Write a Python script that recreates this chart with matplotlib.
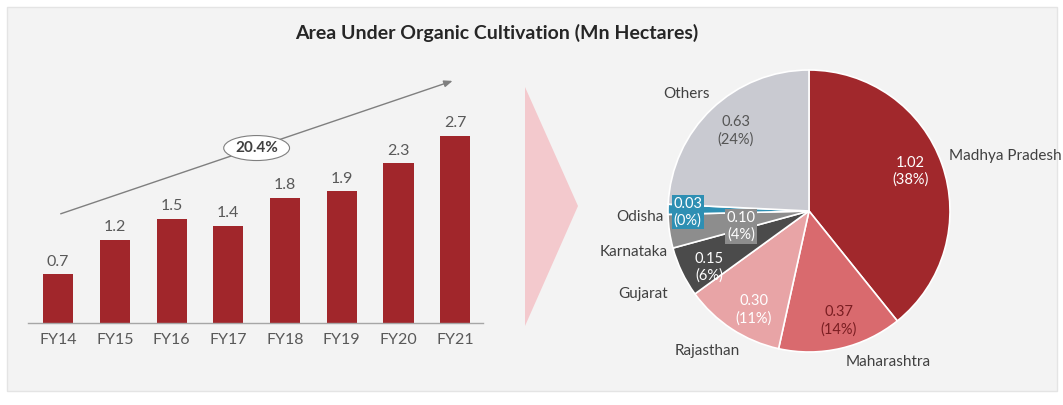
import matplotlib
matplotlib.use("Agg")
import matplotlib.pyplot as plt
from matplotlib.patches import Rectangle, Polygon
import numpy as np

plt.rcParams['font.family'] = ['Lato', 'DejaVu Sans']

# ---- data ----
years = ["FY14", "FY15", "FY16", "FY17", "FY18", "FY19", "FY20", "FY21"]
area = [0.7, 1.2, 1.5, 1.4, 1.8, 1.9, 2.3, 2.7]
cagr_label = "20.4%"

states = ["Madhya Pradesh", "Maharashtra", "Rajasthan", "Gujarat", "Karnataka", "Odisha", "Others"]
state_area = [1.02, 0.37, 0.30, 0.15, 0.10, 0.03, 0.63]
state_pct = ["38%", "14%", "11%", "6%", "4%", "0%", "24%"]

title = "Area Under Organic Cultivation (Mn Hectares)"

# ---- styles ----
W, H = 1063, 405
bar_color = "#a1262b"
pie_colors = ["#a1282c", "#d96a6e", "#e8a4a6", "#4b4b4b", "#8d8d8d", "#2e8fb3", "#c9cad1"]
inner_text_colors = ["white", "#7a1e22", "white", "white", "white", "white", "#555555"]
inner_box = [None, None, None, None, "#8d8d8d", "#2e8fb3", None]
inner_pos = [(0.72, 0.28), (0.21, -0.78), (-0.39, -0.70), (-0.71, -0.40),
             (-0.48, -0.11), (-0.86, -0.01), (-0.52, 0.57)]
outer_pos = [(0.99, 0.39, "left"), (0.56, -1.07, "center"), (-0.72, -0.99, "center"),
             (-1.0, -0.59, "right"), (-1.0, -0.29, "right"), (-1.03, -0.04, "right"),
             (-0.87, 0.83, "center")]

fig = plt.figure(figsize=(W / 100, H / 100), dpi=100)
fig.patch.set_facecolor("white")

def fx(px):
    return px / W

def fy(py):
    return 1 - py / H

# panel background
fig.patches.append(Rectangle((fx(7), fy(391)), fx(1057) - fx(7), fy(7) - fy(391),
                             transform=fig.transFigure, facecolor="#f3f3f3",
                             edgecolor="#e4e4e4", lw=1, zorder=-2))

# chevron
fig.patches.append(Polygon([(fx(525), fy(87)), (fx(578), fy(206)), (fx(525), fy(326))],
                           closed=True, transform=fig.transFigure,
                           facecolor="#f3c9cd", edgecolor="none", zorder=-1))

fig.text(fx(497), fy(33), title, ha="center", va="center", fontsize=14,
         fontweight="bold", color="#262626")

# ---- bar chart ----
ax = fig.add_axes([fx(28), fy(323), fx(483) - fx(28), fy(80) - fy(323)])
ax.set_facecolor("none")
x = np.arange(len(years))
bars = ax.bar(x, area, width=0.53, color=bar_color, zorder=2)
ax.set_xlim(-0.53, 7.49)
ax.set_ylim(0, 3.5)
for b, v in zip(bars, area):
    ax.text(b.get_x() + b.get_width() / 2, v + 0.08, f"{v}", ha="center", va="bottom",
            fontsize=11.5, color="#595959")
ax.set_xticks(x)
ax.set_xticklabels(years, fontsize=11.5, color="#595959")
ax.tick_params(axis="x", length=0, pad=7)
ax.set_yticks([])
for s in ["top", "right", "left"]:
    ax.spines[s].set_visible(False)
ax.spines["bottom"].set_color("#a6a6a6")
ax.spines["bottom"].set_linewidth(1)

ax.annotate("", xy=(7.0, 3.5), xytext=(0.0, 1.56),
            arrowprops=dict(arrowstyle="-|>,head_length=0.5,head_width=0.2",
                            color="#7f7f7f", lw=1), annotation_clip=False)
ax.text(3.5, 2.52, cagr_label, ha="center", va="center", fontsize=11,
        color="#404040", fontweight="bold",
        bbox=dict(boxstyle="ellipse,pad=0.12", fc="white", ec="#7f7f7f", lw=0.8))

# ---- pie chart ----
pax = fig.add_axes([fx(668), fy(352), fx(950) - fx(668), fy(70) - fy(352)])
wedges, _ = pax.pie(state_area, colors=pie_colors, startangle=90, counterclock=False,
                    radius=1, wedgeprops=dict(edgecolor="white", linewidth=1.2))
pax.set_xlim(-1, 1)
pax.set_ylim(-1, 1)
pax.set_aspect("equal")
for i, (name, val, pct) in enumerate(zip(states, state_area, state_pct)):
    px, py = inner_pos[i]
    kw = {}
    if inner_box[i]:
        kw["bbox"] = dict(boxstyle="square,pad=0.1", fc=inner_box[i], ec="none")
    pax.text(px, py, f"{val:.2f}\n({pct})", ha="center", va="center", fontsize=10.5,
             color=inner_text_colors[i], linespacing=1.25, **kw)
    ox, oy, ha = outer_pos[i]
    pax.text(ox, oy, name, ha=ha, va="center", fontsize=11, color="#404040")

fig.savefig("out.png", dpi=100)
